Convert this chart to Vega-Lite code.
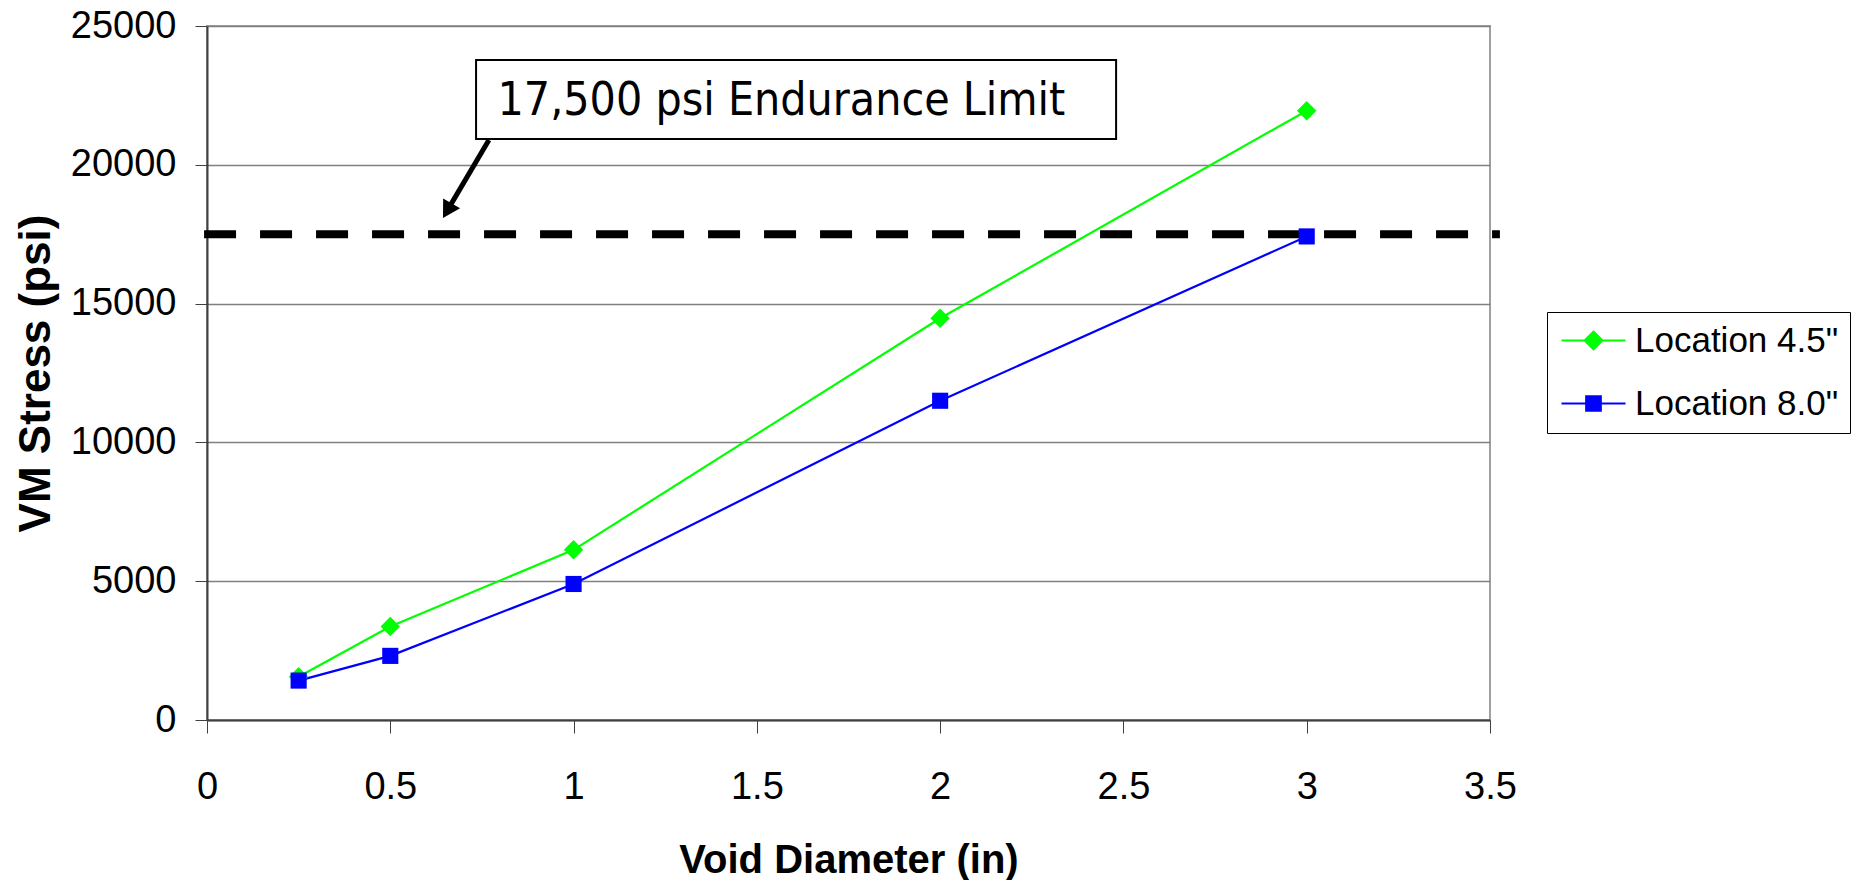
{
  "$schema": "https://vega.github.io/schema/vega-lite/v6.json",
  "width": 1283,
  "height": 694,
  "autosize": {"type": "none"},
  "padding": {"left": 207, "top": 26, "right": 376, "bottom": 160},
  "background": "white",
  "config": {
    "view": {"stroke": "#a0a0a0", "strokeWidth": 2},
    "axis": {"labelColor": "black", "titleColor": "black"}
  },
  "datasets": {
    "series": [
      {"diameter": 0.25, "stress": 1560, "series": "Location 4.5\""},
      {"diameter": 0.5, "stress": 3370, "series": "Location 4.5\""},
      {"diameter": 1, "stress": 6130, "series": "Location 4.5\""},
      {"diameter": 2, "stress": 14470, "series": "Location 4.5\""},
      {"diameter": 3, "stress": 21950, "series": "Location 4.5\""},
      {"diameter": 0.25, "stress": 1420, "series": "Location 8.0\""},
      {"diameter": 0.5, "stress": 2310, "series": "Location 8.0\""},
      {"diameter": 1, "stress": 4900, "series": "Location 8.0\""},
      {"diameter": 2, "stress": 11500, "series": "Location 8.0\""},
      {"diameter": 3, "stress": 17420, "series": "Location 8.0\""}
    ]
  },
  "layer": [
    {
      "data": {"values": [{"x": -0.008, "x2": 3.527, "y": 17500}]},
      "mark": {"type": "rule", "color": "black", "strokeWidth": 8, "strokeDash": [32, 24], "strokeCap": "butt"},
      "encoding": {
        "x": {"field": "x", "type": "quantitative", "scale": {"domain": [0, 3.5], "nice": false, "zero": false},
          "axis": {
            "values": [0, 0.5, 1, 1.5, 2, 2.5, 3, 3.5],
            "format": "~g",
            "grid": false,
            "tickSize": 13,
            "tickColor": "#404040",
            "domainColor": "#404040",
            "domainWidth": 2,
            "labelFont": "Liberation Sans",
            "labelFontSize": 38,
            "labelBaseline": "alphabetic",
            "labelPadding": 65,
            "labelFlush": false,
            "labelOverlap": false,
            "title": "Void Diameter (in)",
            "titleFont": "Liberation Sans",
            "titleFontSize": 40,
            "titleFontWeight": "bold",
            "titleX": 641.5,
            "titleY": 152,
            "titleBaseline": "alphabetic",
            "titleAlign": "center"
          }},
        "x2": {"field": "x2"},
        "y": {"field": "y", "type": "quantitative", "scale": {"domain": [0, 25000], "nice": false},
          "axis": {
            "values": [0, 5000, 10000, 15000, 20000, 25000],
            "format": "d",
            "grid": true,
            "gridColor": "#808080",
            "gridWidth": 1.3,
            "tickSize": 12,
            "tickColor": "#404040",
            "domainColor": "#404040",
            "domainWidth": 2,
            "labelFont": "Liberation Sans",
            "labelFontSize": 38,
            "labelPadding": 19,
            "labelFlush": false,
            "labelOverlap": false,
            "title": "VM Stress (psi)",
            "titleFont": "Liberation Sans",
            "titleFontSize": 44,
            "titleFontWeight": "bold",
            "titleAngle": -90,
            "titleX": -171,
            "titleY": 347,
            "titleBaseline": "middle",
            "titleAlign": "center"
          }}
      }
    },
    {
      "data": {"values": [{"x": 0.734, "x2": 2.48, "y": 20930, "y2": 23775}]},
      "mark": {"type": "rect", "fill": "white", "stroke": "black", "strokeWidth": 2},
      "encoding": {
        "x": {"field": "x", "type": "quantitative"},
        "x2": {"field": "x2"},
        "y": {"field": "y", "type": "quantitative"},
        "y2": {"field": "y2"}
      }
    },
    {
      "data": {"values": [{"x": 1.567, "y": 21790, "label": "17,500 psi Endurance Limit"}]},
      "mark": {"type": "text", "font": "DejaVu Sans Condensed, DejaVu Sans", "fontSize": 46, "color": "black", "align": "center", "baseline": "alphabetic"},
      "encoding": {
        "x": {"field": "x", "type": "quantitative"},
        "y": {"field": "y", "type": "quantitative"},
        "text": {"field": "label"}
      }
    },
    {
      "data": {"values": [{"x": 0.769, "y": 20893, "x2": 0.663, "y2": 18520}]},
      "mark": {"type": "rule", "color": "black", "strokeWidth": 5},
      "encoding": {
        "x": {"field": "x", "type": "quantitative"},
        "x2": {"field": "x2"},
        "y": {"field": "y", "type": "quantitative"},
        "y2": {"field": "y2"}
      }
    },
    {
      "data": {"values": [{"x": 0.6555, "y": 18346}]},
      "mark": {"type": "point", "shape": "triangle-down", "filled": true, "color": "black", "size": 385, "angle": 30.5, "opacity": 1},
      "encoding": {
        "x": {"field": "x", "type": "quantitative"},
        "y": {"field": "y", "type": "quantitative"}
      }
    },
    {
      "data": {"name": "series"},
      "mark": {"type": "line", "strokeWidth": 2.2},
      "encoding": {
        "x": {"field": "diameter", "type": "quantitative"},
        "y": {"field": "stress", "type": "quantitative"},
        "color": {"field": "series", "type": "nominal",
          "scale": {"domain": ["Location 4.5\"", "Location 8.0\""], "range": ["#00ff00", "#0000ff"]},
          "legend": {
            "title": null,
            "orient": "none",
            "legendX": 1340,
            "legendY": 286,
            "direction": "vertical",
            "fillColor": "white",
            "strokeColor": "black",
            "padding": 11,
            "rowPadding": 27,
            "symbolSize": 1024,
            "symbolStrokeWidth": 2,
            "labelOffset": 42,
            "labelFont": "Liberation Sans",
            "labelFontSize": 35,
            "labelColor": "black",
            "labelLimit": 400,
            "encode": {
              "symbols": {
                "update": {
                  "shape": {"signal": "indexof(datum.value, '4.5') >= 0 ? 'M-0.875,0H3.125M1.125,-0.56L1.685,0L1.125,0.56L0.565,0Z' : 'M-0.875,0H3.125M0.665,-0.46H1.585V0.46H0.665Z'"},
                  "fill": {"signal": "indexof(datum.value, '4.5') >= 0 ? '#00ff00' : '#0000ff'"},
                  "stroke": {"signal": "indexof(datum.value, '4.5') >= 0 ? '#00ff00' : '#0000ff'"},
                  "strokeWidth": {"value": 2},
                  "opacity": {"value": 1},
                  "fillOpacity": {"value": 1},
                  "strokeOpacity": {"value": 1}
                }
              }
            }
          }}
      }
    },
    {
      "data": {"name": "series"},
      "transform": [{"filter": {"field": "series", "equal": "Location 4.5\""}}],
      "mark": {"type": "point", "shape": "diamond", "filled": true, "opacity": 1, "color": "#00ff00", "size": 380},
      "encoding": {
        "x": {"field": "diameter", "type": "quantitative"},
        "y": {"field": "stress", "type": "quantitative"}
      }
    },
    {
      "data": {"name": "series"},
      "transform": [{"filter": {"field": "series", "equal": "Location 8.0\""}}],
      "mark": {"type": "point", "shape": "square", "filled": true, "opacity": 1, "color": "#0000ff", "size": 260},
      "encoding": {
        "x": {"field": "diameter", "type": "quantitative"},
        "y": {"field": "stress", "type": "quantitative"}
      }
    }
  ]
}
